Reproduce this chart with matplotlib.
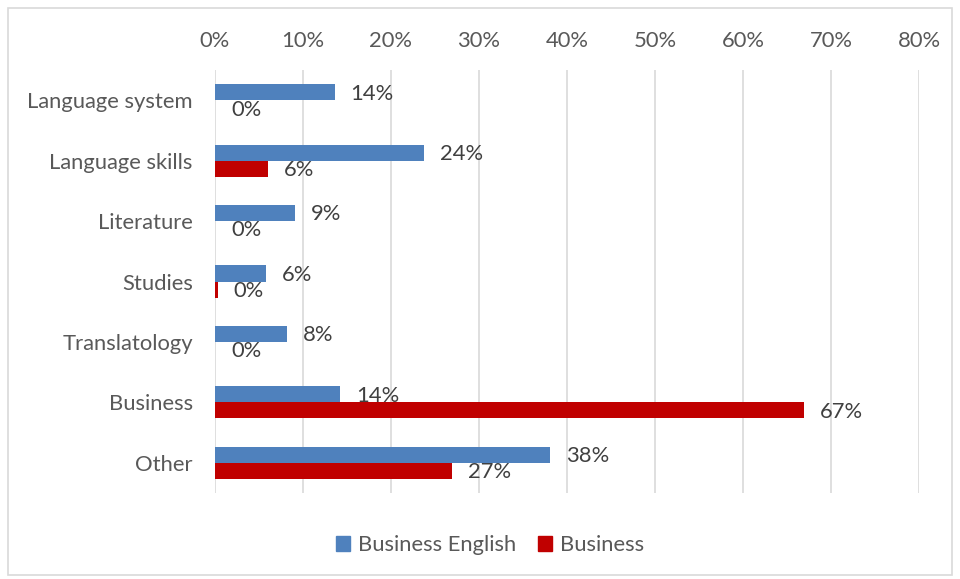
import matplotlib.pyplot as plt
from matplotlib.patches import Patch, Rectangle
import numpy as np

plt.rcParams['font.family'] = ['Lato', 'DejaVu Sans']

# categories, top to bottom
categories = ['Language system', 'Language skills', 'Literature', 'Studies',
              'Translatology', 'Business', 'Other']
# share of each course type (fractions)
business_english = [0.136, 0.237, 0.091, 0.058, 0.082, 0.142, 0.381]
business = [0.0, 0.060, 0.0, 0.003, 0.0, 0.669, 0.269]
ticks = [0.0, 0.1, 0.2, 0.3, 0.4, 0.5, 0.6, 0.7, 0.8]

blue = '#4f81bd'
red = '#c00000'
txt = '#404040'
fs = 15.8

fig = plt.figure(figsize=(9.6, 5.79), dpi=100)
ax = fig.add_axes([215/960, 1-493/579, 704/960, 423/579])

# outer chart frame
fig.patches.append(Rectangle((8/960, 4/579), 944/960, 567/579, transform=fig.transFigure,
                             fill=False, edgecolor='#d9d9d9', linewidth=1.2))

y = np.arange(len(categories))
h = 0.265
b1 = ax.barh(y - h/2, business_english, height=h, color=blue, zorder=2)
b2 = ax.barh(y + h/2, business, height=h, color=red, zorder=2)

# value labels just past the bar ends
for bars, vals in ((b1, business_english), (b2, business)):
    for bar, v in zip(bars, vals):
        ax.annotate('%.0f%%' % (v*100), (v, bar.get_y() + bar.get_height()/2),
                    xytext=(11.5, -1), textcoords='offset points',
                    va='center', ha='left', fontsize=fs, color=txt)

ax.set_xlim(0, 0.8)
ax.set_ylim(len(categories) - 0.5, -0.5)
ax.set_xticks(ticks)
ax.set_xticklabels(['%d%%' % round(t*100) for t in ticks])
ax.set_yticks(y)
ax.set_yticklabels(categories)
ax.xaxis.tick_top()
ax.tick_params(axis='x', length=0, pad=13.5, labelsize=fs, labelcolor='#595959')
ax.tick_params(axis='y', length=0, pad=16, labelsize=fs, labelcolor='#595959')
ax.grid(axis='x', color='#d9d9d9', linewidth=1.2, zorder=0)
for s in ax.spines.values():
    s.set_visible(False)

handles = [Patch(color=blue, label='Business English'), Patch(color=red, label='Business')]
fig.legend(handles=handles, loc='center', bbox_to_anchor=(490/960, 1-545/579), ncol=2,
           frameon=False, fontsize=fs, handlelength=0.65, handleheight=0.65,
           handletextpad=0.35, columnspacing=1.0, labelcolor='#595959')

fig.savefig('out.png', dpi=100)
